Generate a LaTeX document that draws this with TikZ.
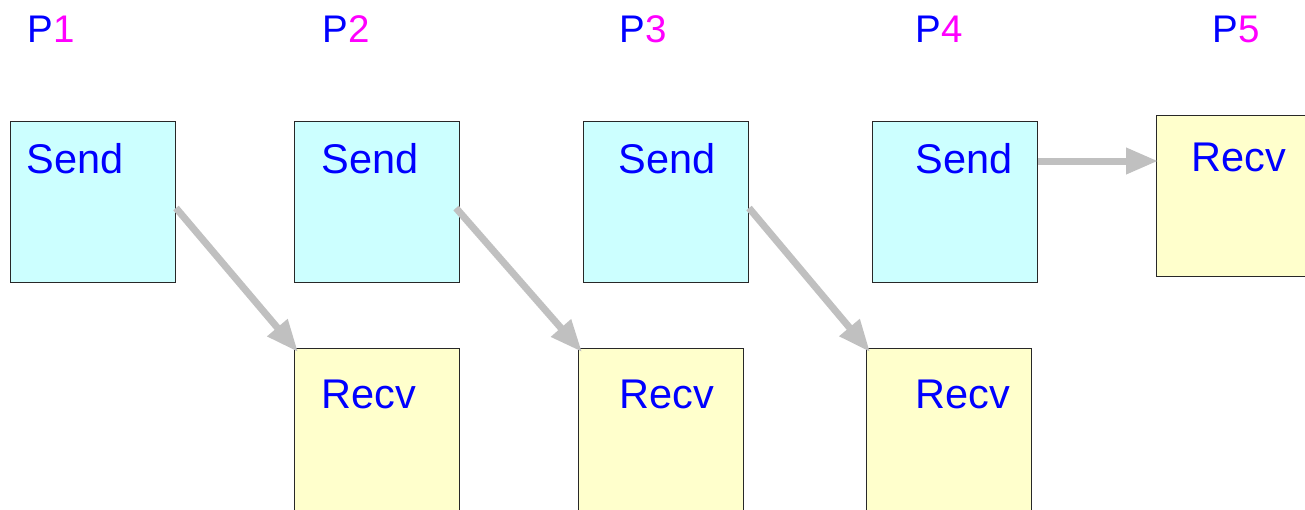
\documentclass[tikz,border=0pt]{standalone}
\usepackage{fontspec}
\setmainfont{Liberation Sans}
\usetikzlibrary{arrows.meta,calc}
\definecolor{sendfill}{RGB}{204,255,255}
\definecolor{recvfill}{RGB}{255,255,204}
\definecolor{txtblue}{RGB}{0,0,255}
\definecolor{txtmag}{RGB}{255,0,255}
\definecolor{arrgray}{RGB}{192,192,192}
\definecolor{edge}{RGB}{40,40,40}
\begin{document}
\begin{tikzpicture}[x=1pt,y=-1pt,
  boxbase/.style={draw=edge,line width=1pt,minimum width=165pt,minimum height=161pt,inner sep=0pt,anchor=north west},
  sendbox/.style={boxbase,fill=sendfill},
  recvbox/.style={boxbase,fill=recvfill},
  lowbox/.style={recvbox,minimum height=170pt},
  boxtext/.style={anchor=base west,inner sep=0pt,text=txtblue,font=\fontsize{41.5}{41.5}\selectfont},
  plabel/.style={anchor=base west,inner sep=0pt,text=txtblue,font=\fontsize{38.5}{38.5}\selectfont},
  msg/.style={draw=arrgray,line width=7pt,-{Triangle[length=32pt,width=25pt]}}]
\useasboundingbox (0,0) rectangle (1305,509);
\clip (0,0) rectangle (1305,509);
% process labels
\node[plabel] (p1) at (27.5,42) {P\textcolor{txtmag}{1}};
\node[plabel] (p2) at (322.5,42) {P\textcolor{txtmag}{2}};
\node[plabel] (p3) at (619.5,42) {P\textcolor{txtmag}{3}};
\node[plabel] (p4) at (915.5,42) {P\textcolor{txtmag}{4}};
\node[plabel] (p5) at (1212.5,42) {P\textcolor{txtmag}{5}};
% boxes
\node[sendbox] (s1) at (10,121) {};
\node[sendbox] (s2) at (294,121) {};
\node[sendbox] (s3) at (583,121) {};
\node[sendbox] (s4) at (872,121) {};
\node[recvbox] (r5) at (1156,115) {};
\node[lowbox] (r2) at (294,348) {};
\node[lowbox] (r3) at (578,348) {};
\node[lowbox] (r4) at (866,348) {};
% texts
\node[boxtext] (ts1) at (26.5,173) {Send};
\node[boxtext] (ts2) at (321.5,173) {Send};
\node[boxtext] (ts3) at (618.5,173) {Send};
\node[boxtext] (ts4) at (915.5,173) {Send};
\node[boxtext] (tr5) at (1191.5,171) {Recv};
\node[boxtext] (tr2) at (321.5,408) {Recv};
\node[boxtext] (tr3) at (619.5,408) {Recv};
\node[boxtext] (tr4) at (915.5,408) {Recv};
% messages
\draw[msg] ([yshift=-6pt]s1.east) -- ([xshift=4pt,yshift=-4pt]r2.north west);
\draw[msg] ([xshift=-4pt,yshift=-6pt]s2.east) -- ([xshift=4pt,yshift=-4pt]r3.north west);
\draw[msg] ([yshift=-6pt]s3.east) -- ([xshift=4pt,yshift=-4pt]r4.north west);
\coordinate (a4) at ([yshift=41pt]s4.east);
\draw[msg] (a4) -- ([xshift=2pt]r5.west |- a4);
\end{tikzpicture}
\end{document}
